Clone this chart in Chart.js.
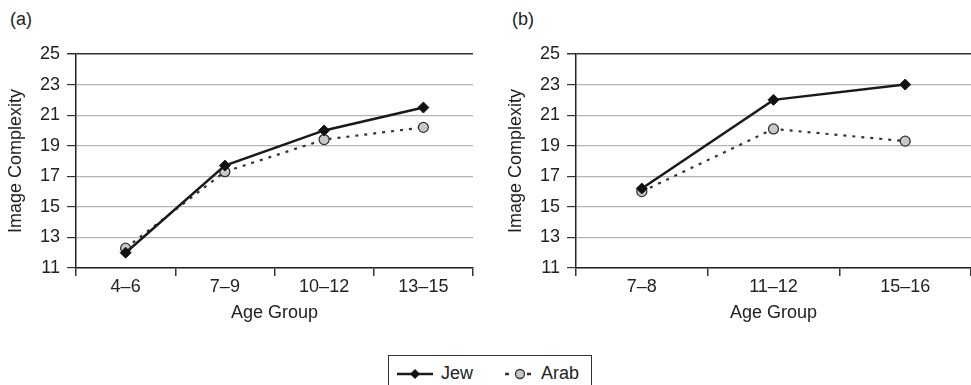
<!DOCTYPE html>
<html>
<head>
<meta charset="utf-8">
<script src="https://cdn.jsdelivr.net/npm/chart.js@4"></script>
<style>
  body { margin: 0; background: #fff; width: 971px; height: 385px; overflow: hidden; position: relative;
         font-family: "Liberation Sans", Arial, sans-serif; color: #222; }
  canvas { position: absolute; top: 0; }
  .panel { position: absolute; top: 9px; font-size: 18px; }
  #legend { position: absolute; left: 388px; top: 355px; width: 202px; height: 40px;
            border: 1.5px solid #333; font-size: 18px; }
  #legend span { position: absolute; top: 7px; }
  #legend svg { position: absolute; top: 10px; }
</style>
</head>
<body>
<div class="panel" style="left:10px">(a)</div>
<div class="panel" style="left:512px">(b)</div>
<canvas id="canvasA" width="485" height="330" style="left:0"></canvas>
<canvas id="canvasB" width="486" height="330" style="left:485px"></canvas>
<div id="legend">
  <svg width="40" height="16" style="left:6px"><line x1="2" y1="8" x2="38" y2="8" stroke="#1a1a1a" stroke-width="2.5"/><polygon points="20,3 25,8 20,13 15,8" fill="#111"/></svg>
  <span style="left:52px">Jew</span>
  <svg width="34" height="16" style="left:114px"><line x1="2" y1="8" x2="32" y2="8" stroke="#333" stroke-width="2.5" stroke-dasharray="4,7"/><circle cx="17" cy="8" r="4.5" fill="#c8c8c8" stroke="#333" stroke-width="1.3"/></svg>
  <span style="left:152px">Arab</span>
</div>
<script>
// grafico (a)
var labelsA = ['4\u20136', '7\u20139', '10\u201312', '13\u201315'];
var jewA = [12.0, 17.7, 20.0, 21.5];
var arabA = [12.3, 17.3, 19.4, 20.2];

// grafico (b)
var labelsB = ['7\u20138', '11\u201312', '15\u201316'];
var jewB = [16.2, 22.0, 23.0];
var arabB = [16.0, 20.1, 19.3];

Chart.defaults.font.family = '"Liberation Sans", Arial, sans-serif';
Chart.defaults.font.size = 18;
Chart.defaults.color = '#222';

function makeChart(id, labels, jew, arab, yWidth, titlePad, padRight) {
  var ctx = document.getElementById(id).getContext('2d');
  var n = labels.length;
  return new Chart(ctx, {
    type: 'line',
    data: {
      labels: labels,
      datasets: [{
        label: 'Jew',
        data: jew,
        borderColor: '#1a1a1a',
        backgroundColor: '#111',
        borderWidth: 2.5,
        pointStyle: 'rectRot',
        pointRadius: 5.5,
        pointBorderWidth: 1
      },
      {
        label: 'Arab',
        data: arab,
        borderColor: '#333',
        backgroundColor: '#c8c8c8',
        borderWidth: 2.2,
        borderDash: [3, 6],
        pointStyle: 'circle',
        pointRadius: 5,
        pointBorderWidth: 1.3,
        pointBorderColor: '#333'
      }]
    },
    options: {
      responsive: false,
      animation: false,
      layout: { autoPadding: false, padding: { top: 54, right: padRight, left: 0, bottom: 0 } },
      plugins: {
        legend: { display: false },
        tooltip: { enabled: false }
      },
      elements: { line: { tension: 0 } },
      scales: {
        x: {
          offset: true,
          grid: {
            offset: true,
            drawOnChartArea: true,
            color: function (c) { return c.index === n ? '#333' : 'rgba(0,0,0,0)'; },
            tickColor: '#333',
            tickLength: 8,
            lineWidth: 1.5
          },
          border: { display: true, color: '#222', width: 1.5 },
          ticks: { padding: 0, maxRotation: 0 },
          title: { display: true, text: 'Age Group', padding: { top: 0, bottom: 6 } },
          afterFit: function (scale) { scale.height = 62; }
        },
        y: {
          min: 11,
          max: 25,
          ticks: { stepSize: 2, padding: 7 },
          grid: {
            color: function (c) { return c.tick && c.tick.value === 25 ? '#333' : '#b4b4b4'; },
            lineWidth: function (c) { return c.tick && c.tick.value === 25 ? 1.5 : 1.2; },
            tickColor: '#333',
            tickLength: 9
          },
          border: { display: true, color: '#222', width: 1.5 },
          title: { display: true, text: 'Image Complexity', padding: { top: titlePad, bottom: 0 } },
          afterFit: function (scale) { scale.width = yWidth; }
        }
      }
    }
  });
}

var chartA = makeChart('canvasA', labelsA, jewA, arabA, 76, 5, 12);
var chartB = makeChart('canvasB', labelsB, jewB, arabB, 91, 20, 0);
</script>
</body>
</html>
